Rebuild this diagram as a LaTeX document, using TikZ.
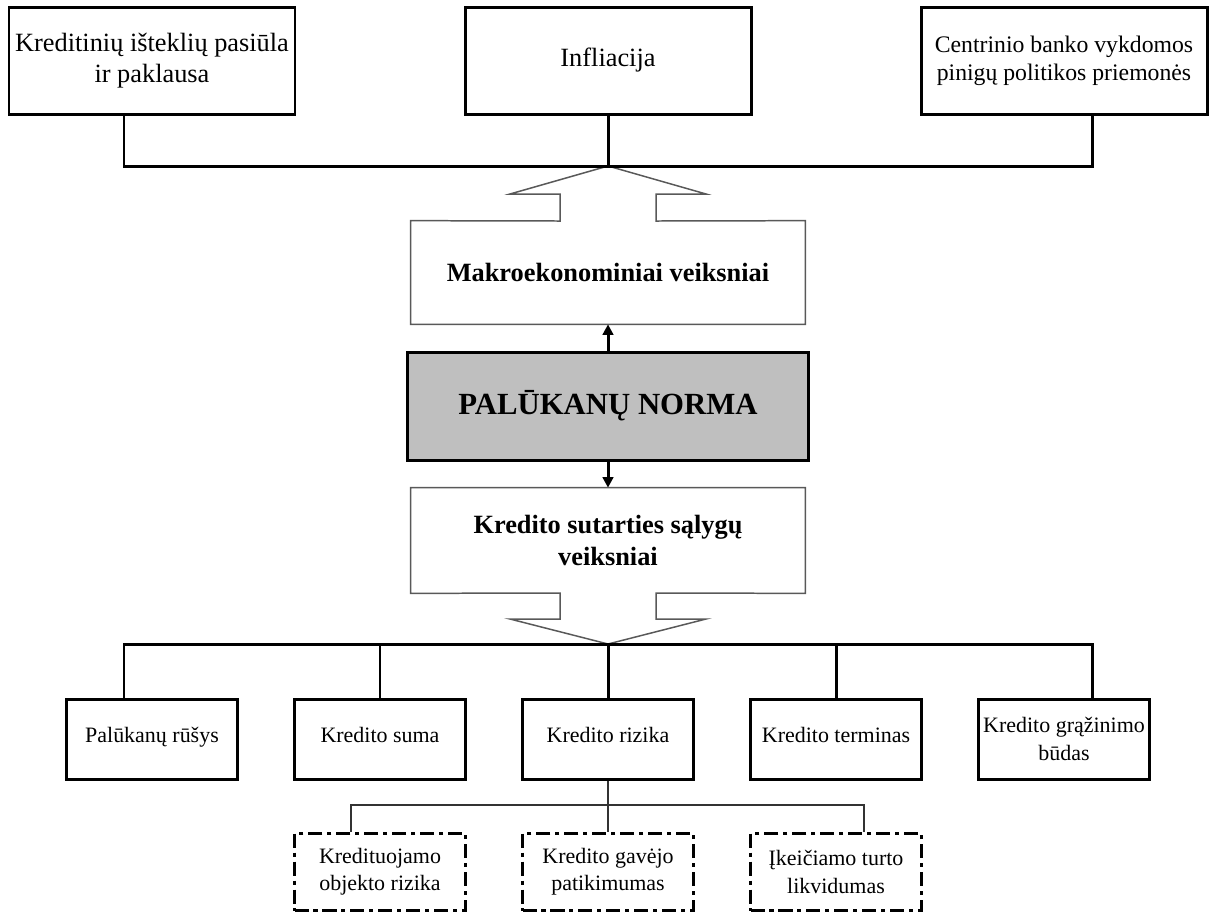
\documentclass[tikz,border=0pt]{standalone}
\usepackage{fontspec}
\setmainfont{Liberation Serif}
\usetikzlibrary{arrows.meta}

\begin{document}
\begin{tikzpicture}[
  box/.style={draw=black, line width=1.7pt, align=center, inner sep=2pt},
  topbox/.style={box, minimum width=5.72cm, minimum height=2.14cm, font=\fontsize{15}{18}\selectfont},
  rowbox/.style={box, minimum width=3.42cm, minimum height=1.60cm, font=\fontsize{12.5}{15.5}\selectfont},
  oneline/.style={text height=0.7em, text depth=0.25em},
  riskbox/.style={rowbox, minimum height=1.54cm, dash pattern=on 8pt off 2.8pt on 2.3pt off 2.8pt},
  bigbox/.style={align=center, minimum width=7.88cm, font=\bfseries\fontsize{15}{18}\selectfont},
  hollow/.style={draw=black!65, line width=0.85pt, line join=miter},
  bar/.style={line width=1.7pt, line join=miter},
  twig/.style={draw=black!80, line width=0.85pt},
  push/.style={line width=1.7pt, -{Triangle[length=6pt, width=6pt]}}
]
\useasboundingbox (0.000, 0.000) rectangle (24.280, -18.260);

\node[topbox] (kredit) at (3.040, -1.210) {Kreditinių išteklių pasiūla\\ir paklausa};
\node[topbox] (infl) at (12.160, -1.210) {Infliacija};
\node[topbox, font=\fontsize{13.5}{16}\selectfont] (centr) at (21.280, -1.210) {Centrinio banko vykdomos\\pinigų politikos priemonės};

\coordinate (topbar) at (12.160, -3.320);
\coordinate (topleft) at (2.480, -3.320);
\coordinate (topright) at (21.840, -3.320);

\node[bigbox, minimum height=2.06cm] (makro) at (12.160, -5.450) {Makroekonominiai veiksniai};
\node[box, fill=black!25, minimum width=8.02cm, minimum height=2.16cm, font=\bfseries\fontsize{17.5}{20}\selectfont] (norma) at (12.160, -8.120) {PALŪKANŲ NORMA};
\node[bigbox, minimum height=2.10cm] (sutart) at (12.160, -10.810) {Kredito sutarties sąlygų\\veiksniai};

\draw[hollow](makro.north west) -- (11.200, -4.420) -- (11.200, -3.880) -- (10.200, -3.880) -- (topbar) -- (14.120, -3.880) -- (13.120, -3.880) -- (13.120, -4.420) -- (makro.north east) -- (makro.south east) -- (makro.south west) -- cycle;

\draw[bar](topleft |- kredit.south) -- (topleft) -- (topright) -- (topright |- centr.south);
\draw[bar](infl.south) -- (topbar);

\draw[push](norma.north) -- (makro.south);
\draw[push](norma.south) -- (sutart.north);

\coordinate (botbar) at (12.160, -12.880);
\coordinate (botleft) at (2.480, -12.880);
\coordinate (botright) at (21.840, -12.880);

\draw[hollow](sutart.north west) -- (sutart.north east) -- (sutart.south east) -- (13.120, -11.860) -- (13.120, -12.380) -- (14.120, -12.380) -- (botbar) -- (10.200, -12.380) -- (11.200, -12.380) -- (11.200, -11.860) -- (sutart.south west) -- cycle;

\node[rowbox, oneline] (rusys) at (3.040, -14.780) {Palūkanų rūšys};
\node[rowbox, oneline] (suma) at (7.600, -14.780) {Kredito suma};
\node[rowbox, oneline] (rizika) at (12.160, -14.780) {Kredito rizika};
\node[rowbox, oneline] (termin) at (16.720, -14.780) {Kredito terminas};
\node[rowbox] (grazin) at (21.280, -14.780) {Kredito grąžinimo\\būdas};

\draw[bar](botleft |- rusys.north) -- (botleft) -- (botright) -- (botright |- grazin.north);
\draw[bar](suma.north |- botbar) -- (suma.north);
\draw[bar](botbar) -- (rizika.north);
\draw[bar](termin.north |- botbar) -- (termin.north);

\node[riskbox] (objekt) at (7.600, -17.440) {Kredituojamo\\objekto rizika};
\node[riskbox] (gavej) at (12.160, -17.440) {Kredito gavėjo\\patikimumas};
\node[riskbox] (turt) at (16.720, -17.440) {Įkeičiamo turto\\likvidumas};

\coordinate (subleft) at (7.020, -16.100);
\coordinate (subright) at (17.280, -16.100);
\draw[twig](rizika.south) -- (gavej.north);
\draw[twig](subleft |- objekt.north) -- (subleft) -- (subright) -- (subright |- turt.north);
\end{tikzpicture}
\end{document}
